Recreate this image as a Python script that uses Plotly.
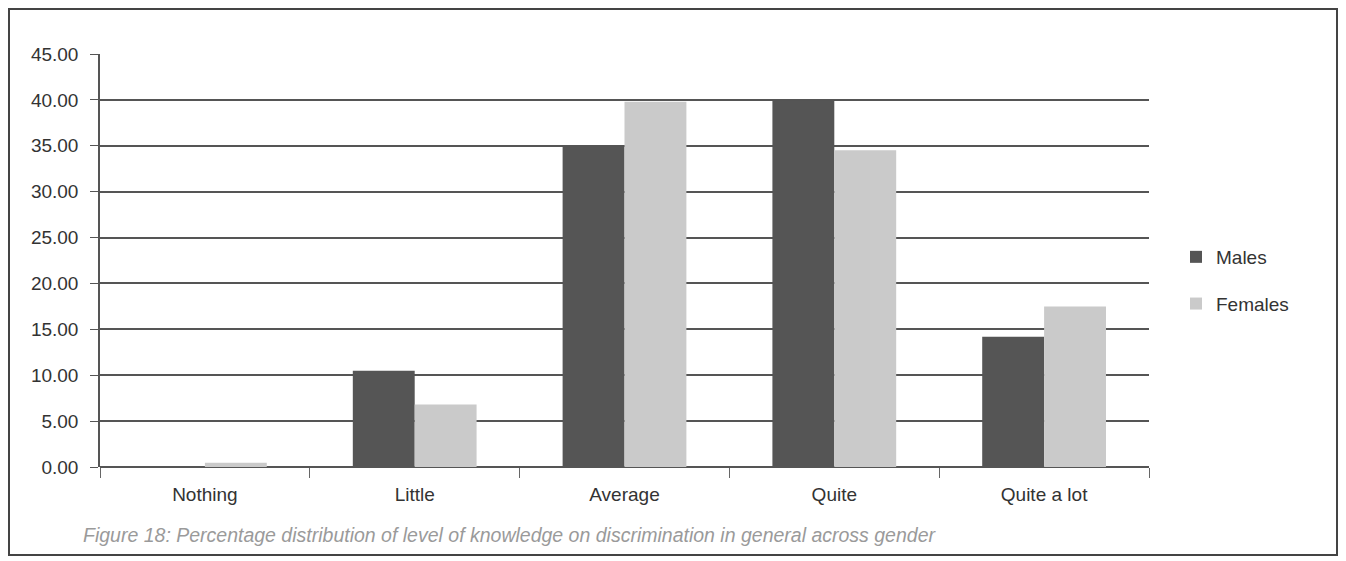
import plotly.graph_objects as go

categories = ["Nothing", "Little", "Average", "Quite", "Quite a lot"]
males = [0.0, 10.5, 34.9, 39.9, 14.2]
females = [0.45, 6.8, 39.8, 34.5, 17.5]
caption = "Figure 18: Percentage distribution of level of knowledge on discrimination in general across gender"

W, H = 1346, 561
OFF = 8  # page offset of the figure inside the browser window
# plot area in page pixels
PL, PR, PT, PB = 100, 1149, 54, 467
L, T = PL - OFF, PT - OFF
R = W - (PR - OFF)
B = H - (PB - OFF)
pw, ph = W - L - R, H - T - B

def px(x):
    return (x - OFF - L) / pw

def py(y):
    return (H - B - (y - OFF)) / ph

FONT = "Liberation Sans, Arial, sans-serif"

fig = go.Figure()
fig.add_trace(go.Bar(name="Males", x=categories, y=males, marker_color="#555555",
                     marker_line_width=0, legendgroup="m"))
fig.add_trace(go.Bar(name="Females", x=categories, y=females, marker_color="#cacaca",
                     marker_line_width=0, legendgroup="f"))

fig.update_layout(
    width=W, height=H,
    margin=dict(l=L, r=R, t=T, b=B),
    paper_bgcolor="white", plot_bgcolor="white",
    barmode="group", bargap=0.41, bargroupgap=0,
    font=dict(family=FONT, size=19, color="#333333"),
    legend=dict(x=px(1176), y=py(238), xanchor="left", yanchor="top",
                tracegroupgap=19, font=dict(size=19, color="#333333"),
                itemwidth=30, traceorder="grouped"),
    xaxis=dict(showgrid=False, ticks="outside", tickson="boundaries", ticklen=10,
               tickcolor="#666666", showline=False, tickfont=dict(size=19),
               ticklabelstandoff=14),
    yaxis=dict(range=[0, 45], dtick=5, tickformat=".2f", showgrid=True,
               gridcolor="#555555", gridwidth=1.5, ticks="outside", ticklen=8,
               tickcolor="#555555", showline=True, linecolor="#555555", linewidth=1.5,
               zeroline=True, zerolinecolor="#555555", zerolinewidth=1.5,
               tickfont=dict(size=19), ticklabelstandoff=8),
    showlegend=True,
)

fig.add_annotation(text="<i>" + caption + "</i>", xref="paper", yref="paper",
                   x=px(938), y=py(535), xanchor="right", yanchor="middle",
                   showarrow=False,
                   font=dict(size=19.5, color="#9a9a9a", family=FONT))

fig.add_shape(type="rect", xref="paper", yref="paper",
              x0=px(OFF + 1), x1=px(1337), y0=py(555), y1=py(OFF + 1),
              line=dict(color="#444444", width=2), fillcolor="rgba(0,0,0,0)", layer="below")

fig.write_html("out.html")
